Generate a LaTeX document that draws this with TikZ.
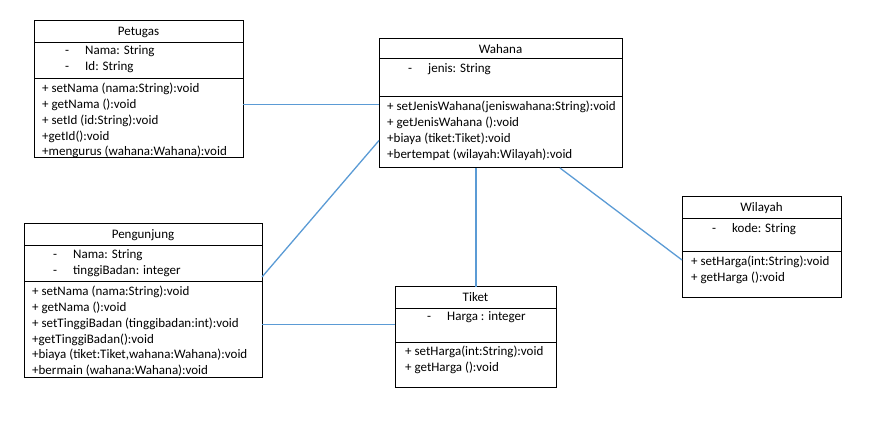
\documentclass[tikz,border=0pt]{standalone}
\usepackage{fontspec}
\setmainfont{Carlito}
\usetikzlibrary{positioning}

\definecolor{linkblue}{HTML}{5B9BD5}
\newcommand{\attr}[1]{\makebox[20pt][l]{-}#1}

\tikzset{
  classbox/.style={draw, line width=1pt, inner sep=0pt, outer sep=0pt, minimum width=#1},
  rows/.style={anchor=north west, inner sep=0pt, align=left},
  assoc/.style={draw=linkblue, line width=1.3pt},
}

\begin{document}
\begin{tikzpicture}[x=1pt,y=-1pt,font=\fontsize{13}{15.9}\selectfont]
    \useasboundingbox (0,0) rectangle (884,422);

    % Petugas
    \node[classbox=209pt, minimum height=22pt, anchor=north west] (petugasT) at (34,21) {Petugas};
    \node[classbox=209pt, minimum height=36pt, below=0pt of petugasT] (petugasA) {};
    \node[classbox=209pt, minimum height=79pt, below=0pt of petugasA] (petugasM) {};
    \node[rows] (petugasAtxt) at (65,43) {\strut\attr{Nama: String}\\\attr{Id: String}};
    \node[rows] (petugasMtxt) at (42,81) {\strut+ setNama (nama:String):void\\+ getNama ():void\\+ setId (id:String):void\\+getId():void\\+mengurus (wahana:Wahana):void};

    % Wahana
    \node[classbox=243pt, minimum height=20pt, anchor=north west] (wahanaT) at (379,39) {Wahana};
    \node[classbox=243pt, minimum height=38pt, below=0pt of wahanaT] (wahanaA) {};
    \node[classbox=243pt, minimum height=71pt, below=0pt of wahanaA] (wahanaM) {};
    \node[rows] (wahanaAtxt) at (408,61) {\strut\attr{jenis: String}};
    \node[rows] (wahanaMtxt) at (387,99) {\strut+ setJenisWahana(jeniswahana:String):void\\+ getJenisWahana ():void\\+biaya (tiket:Tiket):void\\+bertempat (wilayah:Wilayah):void};

    % Pengunjung
    \node[classbox=238pt, minimum height=22pt, anchor=north west] (pengunjungT) at (24,224) {Pengunjung};
    \node[classbox=238pt, minimum height=36pt, below=0pt of pengunjungT] (pengunjungA) {};
    \node[classbox=238pt, minimum height=95pt, below=0pt of pengunjungA] (pengunjungM) {};
    \node[rows] (pengunjungAtxt) at (53,247) {\strut\attr{Nama: String}\\\attr{tinggiBadan: integer}};
    \node[rows] (pengunjungMtxt) at (32,284) {\strut+ setNama (nama:String):void\\+ getNama ():void\\+ setTinggiBadan (tinggibadan:int):void\\+getTinggiBadan():void\\+biaya (tiket:Tiket,wahana:Wahana):void\\+bermain (wahana:Wahana):void};

    % Tiket
    \node[classbox=161pt, minimum height=21pt, anchor=north west] (tiketT) at (395,287) {Tiket};
    \node[classbox=161pt, minimum height=34pt, below=0pt of tiketT] (tiketA) {};
    \node[classbox=161pt, minimum height=45pt, below=0pt of tiketA] (tiketM) {};
    \node[rows] (tiketAtxt) at (427,309) {\strut\attr{Harga : integer}};
    \node[rows] (tiketMtxt) at (405,344) {\strut+ setHarga(int:String):void\\+ getHarga ():void};

    % Wilayah
    \node[classbox=159pt, minimum height=22pt, anchor=north west] (wilayahT) at (682,197) {Wilayah};
    \node[classbox=159pt, minimum height=33pt, below=0pt of wilayahT] (wilayahA) {};
    \node[classbox=159pt, minimum height=46pt, below=0pt of wilayahA] (wilayahM) {};
    \node[rows] (wilayahAtxt) at (712,221) {\strut\attr{kode: String}};
    \node[rows] (wilayahMtxt) at (691,254) {\strut+ setHarga(int:String):void\\+ getHarga ():void};

    % relasi
    \coordinate (pw) at ([yshift=-7.5pt]wahanaM.north west);
    \coordinate (tw) at ([xshift=0.5pt]tiketT.north);
    \coordinate (tp) at ([yshift=0.5pt]tiketA.west);
    \draw[assoc] (petugasM.east |- pw) -- (pw);
    \draw[assoc] ([yshift=5pt]pengunjungA.south east) -- ([yshift=-8pt]wahanaM.west);
    \draw[assoc] (tw) -- (tw |- wahanaM.south);
    \draw[assoc] ([xshift=-62pt]wahanaM.south east) -- ([yshift=-8pt]wilayahM.north west);
    \draw[assoc] (tp) -- (tp -| pengunjungM.east);
\end{tikzpicture}
\end{document}
